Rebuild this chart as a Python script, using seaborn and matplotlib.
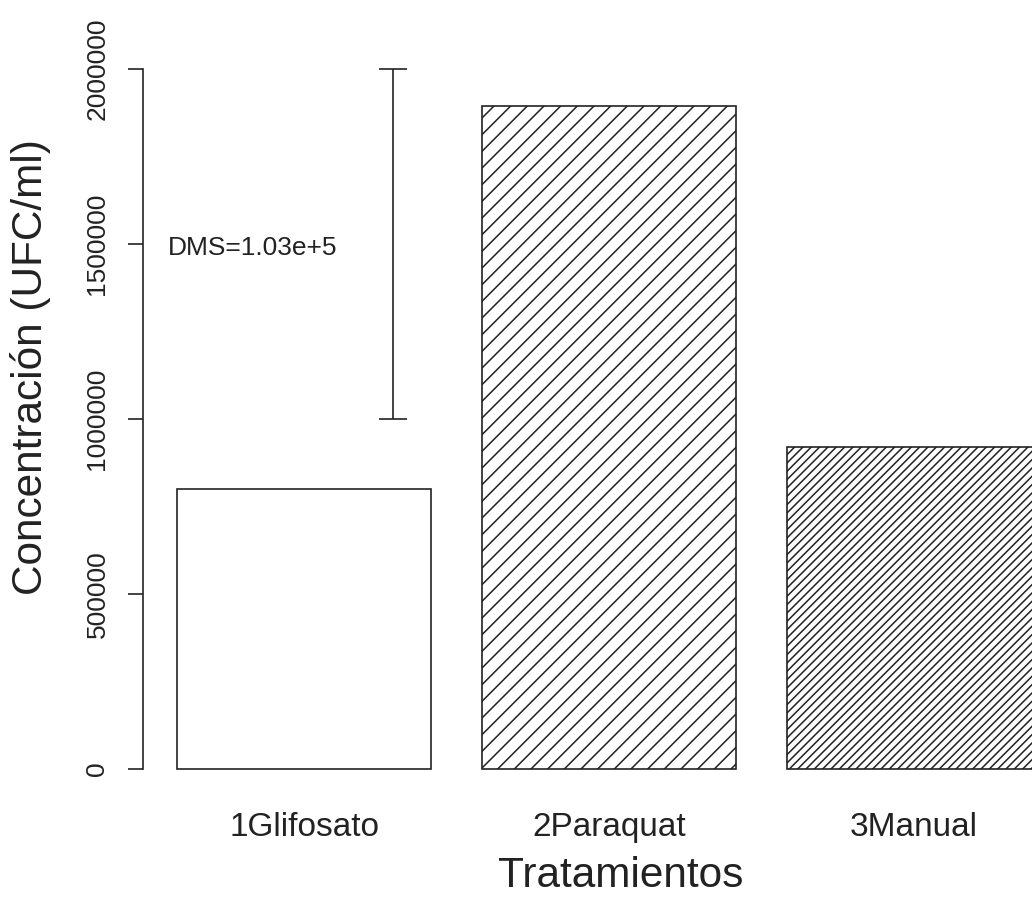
import pandas as pd
import matplotlib
matplotlib.use("Agg")
import matplotlib.pyplot as plt
import seaborn as sns

# --- datos ---
tratamientos = ['1Glifosato', '2Paraquat', '3Manual']
concentracion = [800000, 1894000, 920000]
y_ticks = [0, 500000, 1000000, 1500000, 2000000]
dms_texto = 'DMS=1.03e+5'
dms_inferior = 1000000
dms_superior = 2000000

df = pd.DataFrame({'Tratamientos': tratamientos, 'Concentracion': concentracion})

# estilo general
sns.set_theme(style="white")
plt.rcParams['font.family'] = ['Liberation Sans', 'DejaVu Sans']
plt.rcParams['hatch.linewidth'] = 1.1
plt.rcParams['hatch.color'] = '#222222'

fig = plt.figure(figsize=(10.32, 8.97), dpi=100)
# eje tipo R (se recorta a la derecha y arriba como en la imagen)
ax = fig.add_axes([0.1381, 0.11148, 0.9036, 0.88852])

sns.barplot(data=df, x='Tratamientos', y='Concentracion', ax=ax,
            width=1/1.2, color='white', edgecolor='#222222', linewidth=1.2,
            saturation=1, errorbar=None)

# tramas como en barplot(density=...) de R
tramas = ['', '//', '////']
for barra, trama in zip(ax.patches, tramas):
    barra.set_hatch(trama)
    barra.set_facecolor('white')

ax.set_xlim(-0.53, 2.53)
ax.set_ylim(-80000, 2197143)

# barra DMS y texto
ax.errorbar(0.2917, (dms_inferior + dms_superior) / 2,
            yerr=(dms_superior - dms_inferior) / 2, fmt='none',
            ecolor='#222222', elinewidth=1.2, capsize=10.4, capthick=1.2)
ax.text(-0.1675, 1490000, dms_texto, ha='center', va='center', fontsize=19,
        color='#222222')

# ejes
for lado in ['top', 'right', 'bottom']:
    ax.spines[lado].set_visible(False)
ax.spines['left'].set_bounds(0, 2000000)
ax.spines['left'].set_color('#222222')
ax.spines['left'].set_linewidth(1.2)

ax.set_yticks(y_ticks)
ax.set_yticklabels([str(v) for v in y_ticks], rotation=90, va='center')
ax.tick_params(axis='y', left=True, length=10.8, width=1.2, color='#222222',
               labelsize=19, pad=13, labelcolor='#222222')
ax.tick_params(axis='x', bottom=False, length=0, labelsize=24, pad=11,
               labelcolor='#222222')

ax.set_xlabel('Tratamientos', fontsize=30.5, color='#222222')
ax.set_ylabel('Concentración (UFC/ml)', fontsize=30.5, color='#222222')
ax.xaxis.set_label_coords(0.513, -0.074)
ax.yaxis.set_label_coords(-0.098, 0.5395)

plt.savefig('out.png', dpi=100)
